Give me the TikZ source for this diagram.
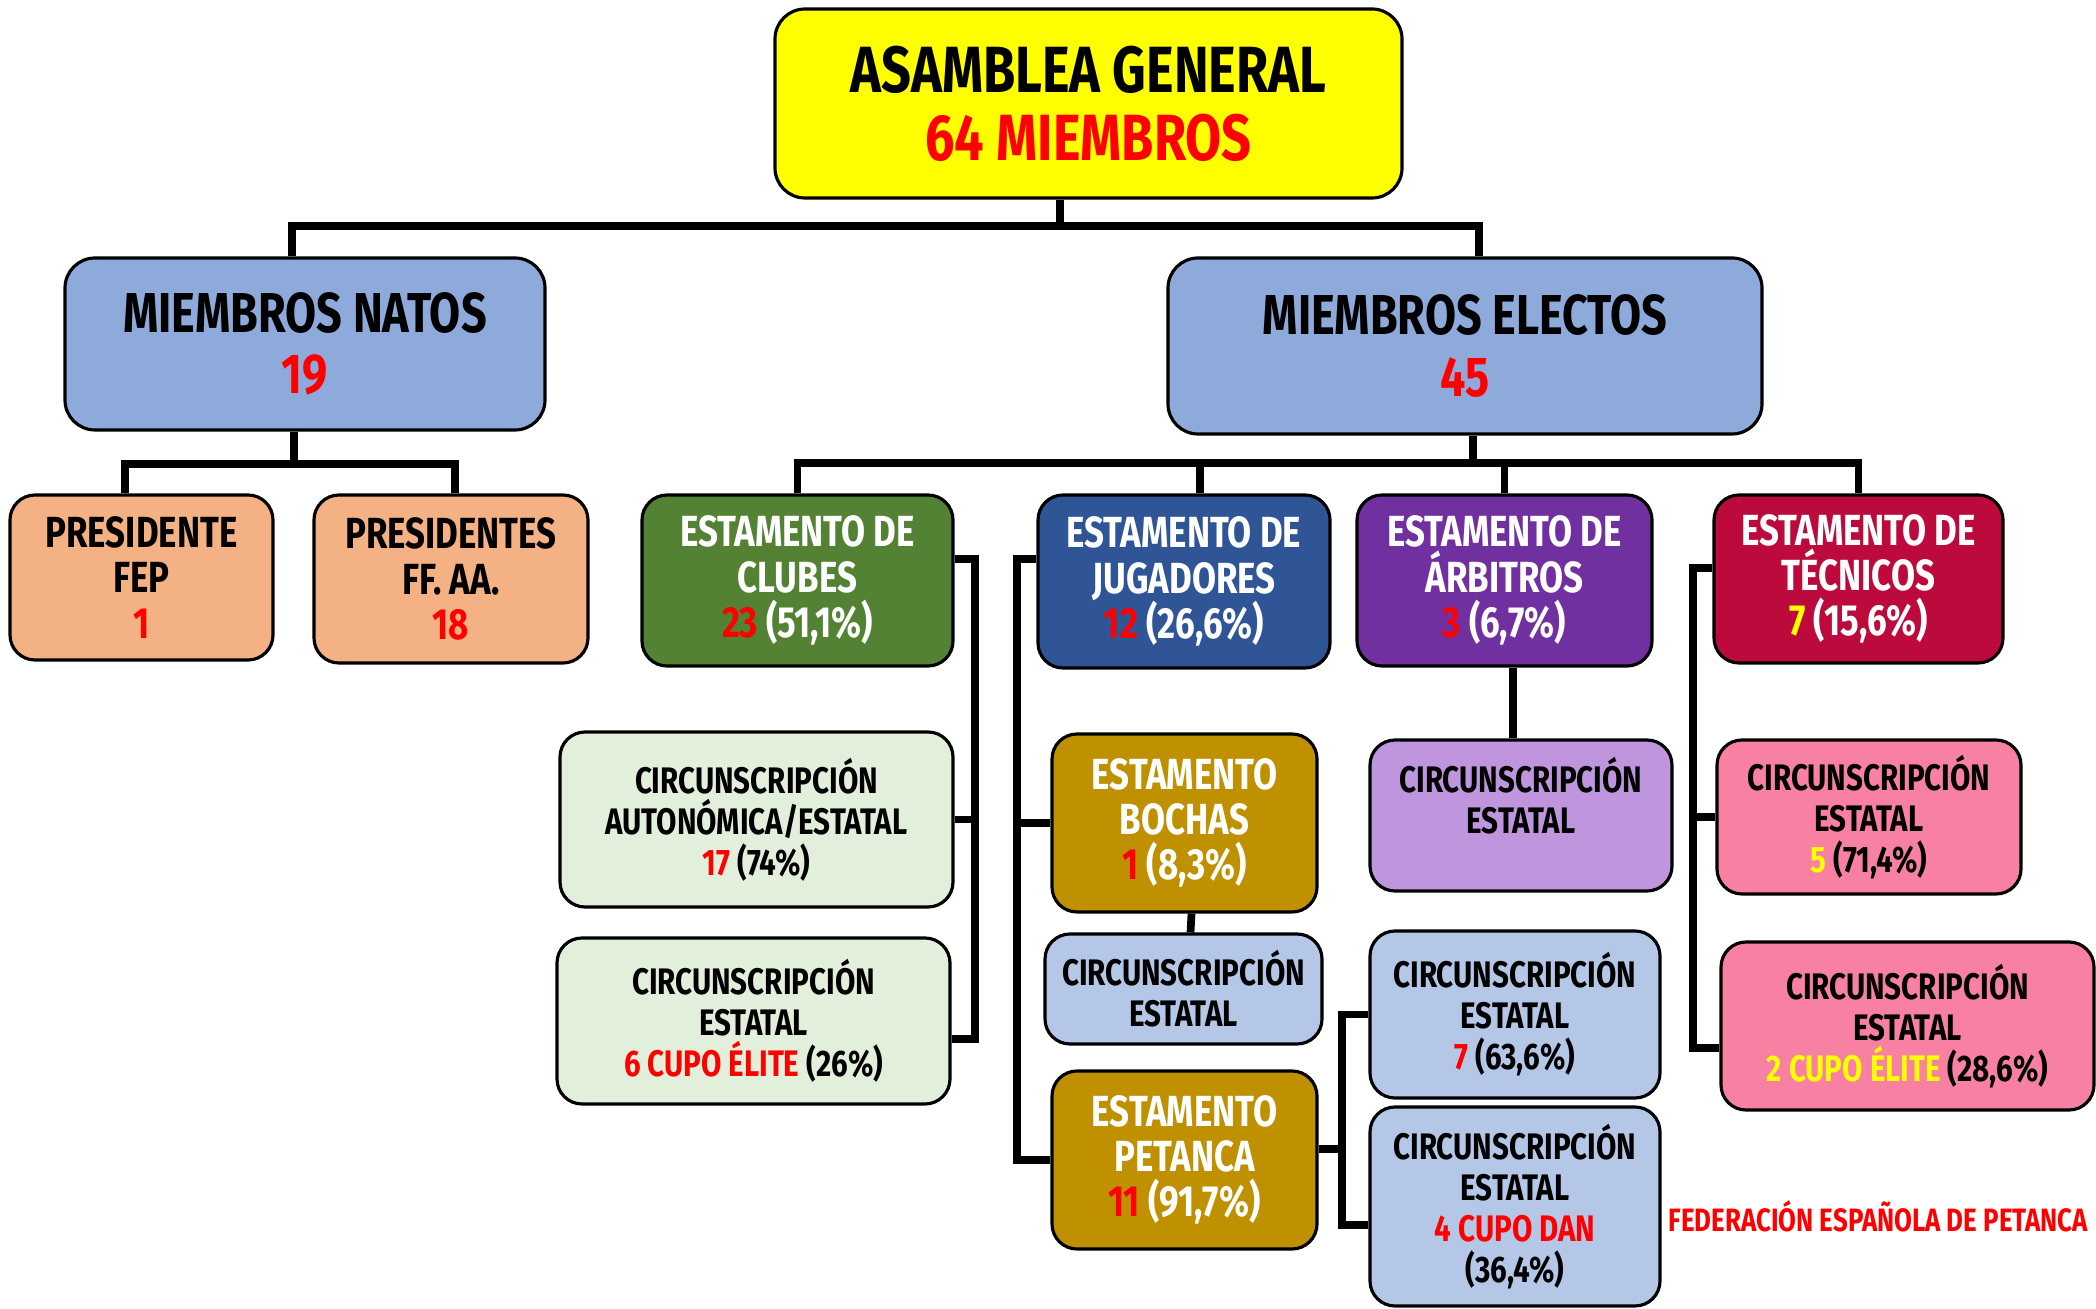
\documentclass[tikz,border=0pt]{standalone}
\usepackage{fontspec}
\usepackage{tikz}
\usetikzlibrary{positioning}

\newfontfamily\orgfont[FakeStretch=0.8]{Fira Sans}

\definecolor{amarillo}{HTML}{FFFF00}
\definecolor{azulmedio}{HTML}{8EAADB}
\definecolor{naranja}{HTML}{F4B183}
\definecolor{verde}{HTML}{548235}
\definecolor{azul}{HTML}{2F5597}
\definecolor{morado}{HTML}{7030A0}
\definecolor{granate}{HTML}{BC0A3C}
\definecolor{verdeclaro}{HTML}{E2EFDA}
\definecolor{oro}{HTML}{BF9000}
\definecolor{azulclaro}{HTML}{B4C7E7}
\definecolor{lila}{HTML}{BF95DE}
\definecolor{rosa}{HTML}{F881A3}
\definecolor{rojo}{HTML}{FF0000}

\newcommand{\enrojo}[1]{\textcolor{rojo}{#1}}
\newcommand{\enamarillo}[1]{\textcolor{amarillo}{#1}}

\begin{document}
\begin{tikzpicture}[
  link/.style={line width=2.2pt},
  box/.style={draw, line width=0.9pt, rounded corners=0.3cm, align=center, inner sep=0pt},
  big/.style={box, font=\orgfont\bfseries\fontsize{18.6}{19.4}\selectfont},
  mid/.style={box, font=\orgfont\bfseries\fontsize{16}{17.4}\selectfont},
  est/.style={box, rounded corners=0.25cm, font=\orgfont\bfseries\fontsize{12.4}{12.9}\selectfont},
  circ/.style={box, rounded corners=0.25cm, font=\orgfont\bfseries\fontsize{10.5}{11.7}\selectfont}
]
  \useasboundingbox (0,0) rectangle (20.96,-13.09);

  % top levels
  \node[big, fill=amarillo, minimum width=6.27cm, minimum height=1.89cm] (asamblea) at (10.885,-1.035) {ASAMBLEA GENERAL\\\enrojo{64 MIEMBROS}};
  \node[mid, fill=azulmedio, minimum width=4.80cm, minimum height=1.72cm] (natos) at (3.05,-3.44) {MIEMBROS NATOS\\\enrojo{19}};
  \node[mid, fill=azulmedio, minimum width=5.94cm, minimum height=1.76cm] (electos) at (14.65,-3.46) {MIEMBROS ELECTOS\\\enrojo{45}};

  % miembros natos
  \node[est, fill=naranja, minimum width=2.63cm, minimum height=1.65cm] (fep) at (1.415,-5.775) {PRESIDENTE\\FEP\\\enrojo{1}};
  \node[est, fill=naranja, minimum width=2.74cm, minimum height=1.68cm] (ffaa) at (4.51,-5.79) {PRESIDENTES\\FF. AA.\\\enrojo{18}};

  % estamentos
  \node[est, fill=verde, text=white, minimum width=3.11cm, minimum height=1.71cm] (clubes) at (7.975,-5.805) {ESTAMENTO DE\\CLUBES\\\enrojo{23} (51,1\%)};
  \node[est, fill=azul, text=white, minimum width=2.92cm, minimum height=1.73cm] (jugadores) at (11.84,-5.815) {ESTAMENTO DE\\JUGADORES\\\enrojo{12} (26,6\%)};
  \node[est, fill=morado, text=white, minimum width=2.95cm, minimum height=1.71cm] (arbitros) at (15.045,-5.805) {ESTAMENTO DE\\ÁRBITROS\\\enrojo{3} (6,7\%)};
  \node[est, fill=granate, text=white, minimum width=2.89cm, minimum height=1.68cm] (tecnicos) at (18.585,-5.79) {ESTAMENTO DE\\TÉCNICOS\\\enamarillo{7} (15,6\%)};

  % clubes
  \node[circ, fill=verdeclaro, minimum width=3.93cm, minimum height=1.75cm] (autonomica) at (7.565,-8.195) {CIRCUNSCRIPCIÓN\\AUTONÓMICA/ESTATAL\\\enrojo{17} (74\%)};
  \node[circ, fill=verdeclaro, minimum width=3.93cm, minimum height=1.66cm] (clubestatal) at (7.535,-10.21) {CIRCUNSCRIPCIÓN\\ESTATAL\\\enrojo{6 CUPO ÉLITE} (26\%)};

  % jugadores
  \node[est, fill=oro, text=white, minimum width=2.65cm, minimum height=1.78cm] (bochas) at (11.845,-8.23) {ESTAMENTO\\BOCHAS\\\enrojo{1} (8,3\%)};
  \node[circ, fill=azulclaro, minimum width=2.77cm, minimum height=1.10cm] (bochasestatal) at (11.835,-9.89) {CIRCUNSCRIPCIÓN\\ESTATAL};
  \node[est, fill=oro, text=white, minimum width=2.65cm, minimum height=1.78cm] (petanca) at (11.845,-11.60) {ESTAMENTO\\PETANCA\\\enrojo{11} (91,7\%)};
  \node[circ, fill=azulclaro, minimum width=2.90cm, minimum height=1.67cm] (petestatal) at (15.15,-10.145) {CIRCUNSCRIPCIÓN\\ESTATAL\\\enrojo{7} (63,6\%)};
  \node[circ, fill=azulclaro, minimum width=2.90cm, minimum height=1.99cm] (petdan) at (15.15,-12.065) {CIRCUNSCRIPCIÓN\\ESTATAL\\\enrojo{4 CUPO DAN}\\(36,4\%)};

  % arbitros
  \node[circ, fill=lila, minimum width=3.02cm, minimum height=1.51cm] (arbestatal) at (15.21,-8.155) {CIRCUNSCRIPCIÓN\\ESTATAL\\\mbox{}};

  % tecnicos
  \node[circ, fill=rosa, minimum width=3.04cm, minimum height=1.54cm] (tecestatal) at (18.69,-8.17) {CIRCUNSCRIPCIÓN\\ESTATAL\\\enamarillo{5} (71,4\%)};
  \node[circ, fill=rosa, minimum width=3.73cm, minimum height=1.68cm] (tecelite) at (19.075,-10.26) {CIRCUNSCRIPCIÓN\\ESTATAL\\\enamarillo{2 CUPO ÉLITE} (28,6\%)};

  \node[anchor=west, inner sep=0pt, text=rojo, font=\orgfont\bfseries\fontsize{9.2}{10}\selectfont] (fedlabel) at (16.68,-12.16) {FEDERACIÓN ESPAÑOLA DE PETANCA};

  % connectors
  \coordinate (bus1) at (10.60,-2.26);
  \coordinate (bus2) at (2.94,-4.64);
  \coordinate (bus3) at (14.73,-4.63);
  \coordinate (cbus) at (9.75,-5.59);
  \coordinate (jbus) at (10.17,-5.59);
  \coordinate (pbus) at (13.42,-11.49);
  \coordinate (tbus) at (16.93,-5.68);

  \draw[link] (asamblea.south -| bus1) -- (bus1);
  \draw[link] ([xshift=-0.13cm]natos.north) |- (bus1) -| ([xshift=0.14cm]electos.north);
  \draw[link] (natos.south -| bus2) -- (bus2);
  \draw[link] ([xshift=-0.165cm]fep.north) |- (bus2) -| ([xshift=0.04cm]ffaa.north);
  \draw[link] (electos.south -| bus3) -- (bus3);
  \draw[link] (clubes.north) |- (tecnicos.north |- bus3) -- (tecnicos.north);
  \draw[link] ([xshift=0.16cm]jugadores.north) -- ([xshift=0.16cm]jugadores.north |- bus3);
  \draw[link] (arbitros.north) -- (arbitros.north |- bus3);

  \draw[link] (clubes.east |- cbus) -- (cbus) |- ([yshift=-0.18cm]clubestatal.east);
  \draw[link] (autonomica.east) -- (autonomica.east -| cbus);
  \draw[link] (jugadores.west |- jbus) -- (jbus) |- (petanca.west);
  \draw[link] (bochas.west) -- (bochas.west -| jbus);
  \draw[link] ([xshift=0.07cm]bochas.south) -- ([xshift=0.07cm]bochasestatal.north);
  \draw[link] (petanca.east |- pbus) -- (pbus);
  \draw[link] (petestatal.west) -| (pbus) |- ([yshift=-0.185cm]petdan.west);
  \draw[link] ([xshift=0.085cm]arbitros.south) -- ([xshift=0.085cm]arbitros.south |- arbestatal.north);
  \draw[link] (tecnicos.west |- tbus) -- (tbus) |- ([yshift=-0.22cm]tecelite.west);
  \draw[link] (tecestatal.west) -- (tecestatal.west -| tbus);
\end{tikzpicture}
\end{document}
